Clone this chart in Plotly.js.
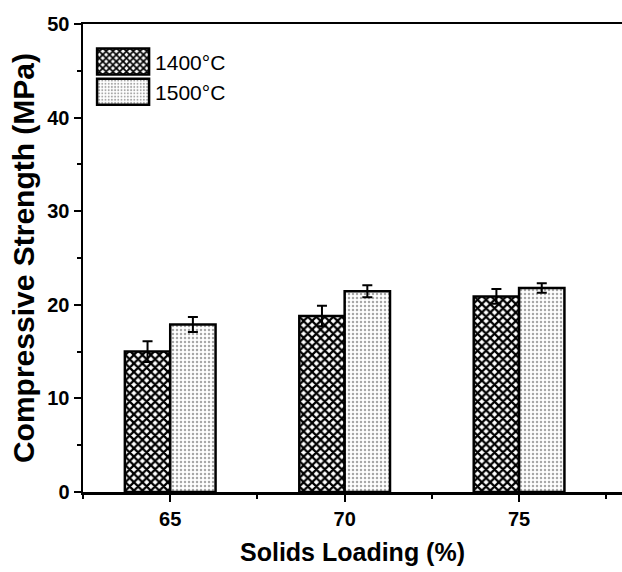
<!DOCTYPE html>
<html>
<head>
<meta charset="utf-8">
<script src="https://cdn.plot.ly/plotly-3.0.1.min.js"></script>
<style>html,body{margin:0;padding:0;background:#fff;}#chart{width:622px;height:572px;}</style>
</head>
<body>
<div id="chart"></div>
<script>
const solidsLoading = [65, 70, 75];
const strength1400 = [15.0, 18.8, 20.9];
const error1400 = [1.1, 1.1, 0.8];
const strength1500 = [17.9, 21.45, 21.8];
const error1500 = [0.8, 0.65, 0.5];
const seriesNames = ['1400°C', '1500°C'];
const yTicks = [0, 10, 20, 30, 40, 50];
const xTicks = [65, 70, 75];

const FONT = 'Liberation Sans, Arial, sans-serif';

const traces = [
  {
    type: 'bar', name: seriesNames[0], x: solidsLoading, y: strength1400,
    error_y: {type: 'data', array: error1400, visible: true, color: '#000', thickness: 2, width: 5},
    marker: {color: '#ffffff', line: {color: '#000', width: 2.5},
      pattern: {shape: 'x', fgcolor: '#000', bgcolor: '#ffffff', size: 6, solidity: 0.6, fillmode: 'replace'}}
  },
  {
    type: 'bar', name: seriesNames[1], x: solidsLoading, y: strength1500,
    error_y: {type: 'data', array: error1500, visible: true, color: '#000', thickness: 2, width: 5},
    marker: {color: '#ffffff', line: {color: '#000', width: 2.5},
      pattern: {shape: '.', fgcolor: '#a8a8a8', bgcolor: '#ffffff', size: 4, solidity: 0.3, fillmode: 'replace'}}
  }
];

const layout = {
  width: 622, height: 572,
  margin: {l: 83, r: 0, t: 24, b: 80},
  paper_bgcolor: '#fff', plot_bgcolor: '#fff',
  barmode: 'group', bargap: 0.48, bargroupgap: 0,
  font: {family: FONT, color: '#000'},
  showlegend: true,
  legend: {x: 0.015, y: 0.963, xanchor: 'left', yanchor: 'top', bgcolor: 'rgba(0,0,0,0)',
    font: {size: 21, family: FONT}, itemwidth: 54, tracegroupgap: 0},
  xaxis: {
    range: [62.5, 77.95], tickvals: xTicks, ticktext: xTicks.map(String),
    showline: true, linecolor: '#000', linewidth: 2.5, mirror: true,
    ticks: 'outside', ticklen: 7, tickwidth: 2, tickcolor: '#000',
    minor: {dtick: 2.5, ticks: 'outside', ticklen: 4, tickwidth: 2, tickcolor: '#000', showgrid: false},
    showgrid: false, zeroline: false,
    tickfont: {size: 20, family: FONT, weight: 'bold'},
    title: {text: '<b>Solids Loading (%)</b>', font: {size: 25, family: FONT}, standoff: 15}
  },
  yaxis: {
    range: [0, 50], tickvals: yTicks,
    showline: true, linecolor: '#000', linewidth: 2.5, mirror: false,
    ticks: 'outside', ticklen: 7, tickwidth: 2, tickcolor: '#000',
    minor: {dtick: 5, ticks: 'outside', ticklen: 4, tickwidth: 2, tickcolor: '#000', showgrid: false},
    showgrid: false, zeroline: false,
    tickfont: {size: 20, family: FONT, weight: 'bold'},
    title: {text: '<b>Compressive Strength (MPa)</b>', font: {size: 30, family: FONT}, standoff: 4}
  }
};

Plotly.newPlot('chart', traces, layout, {displayModeBar: false, staticPlot: true}).then(function (gd) {
  // enlarge legend swatches to match the reference's wide boxes
  gd.querySelectorAll('.legend .legendpoints path').forEach(function (p) {
    p.setAttribute('d', 'M26,13H-26V-13H26Z');
    p.style.strokeWidth = '2.5px';
  });
});
</script>
</body>
</html>
